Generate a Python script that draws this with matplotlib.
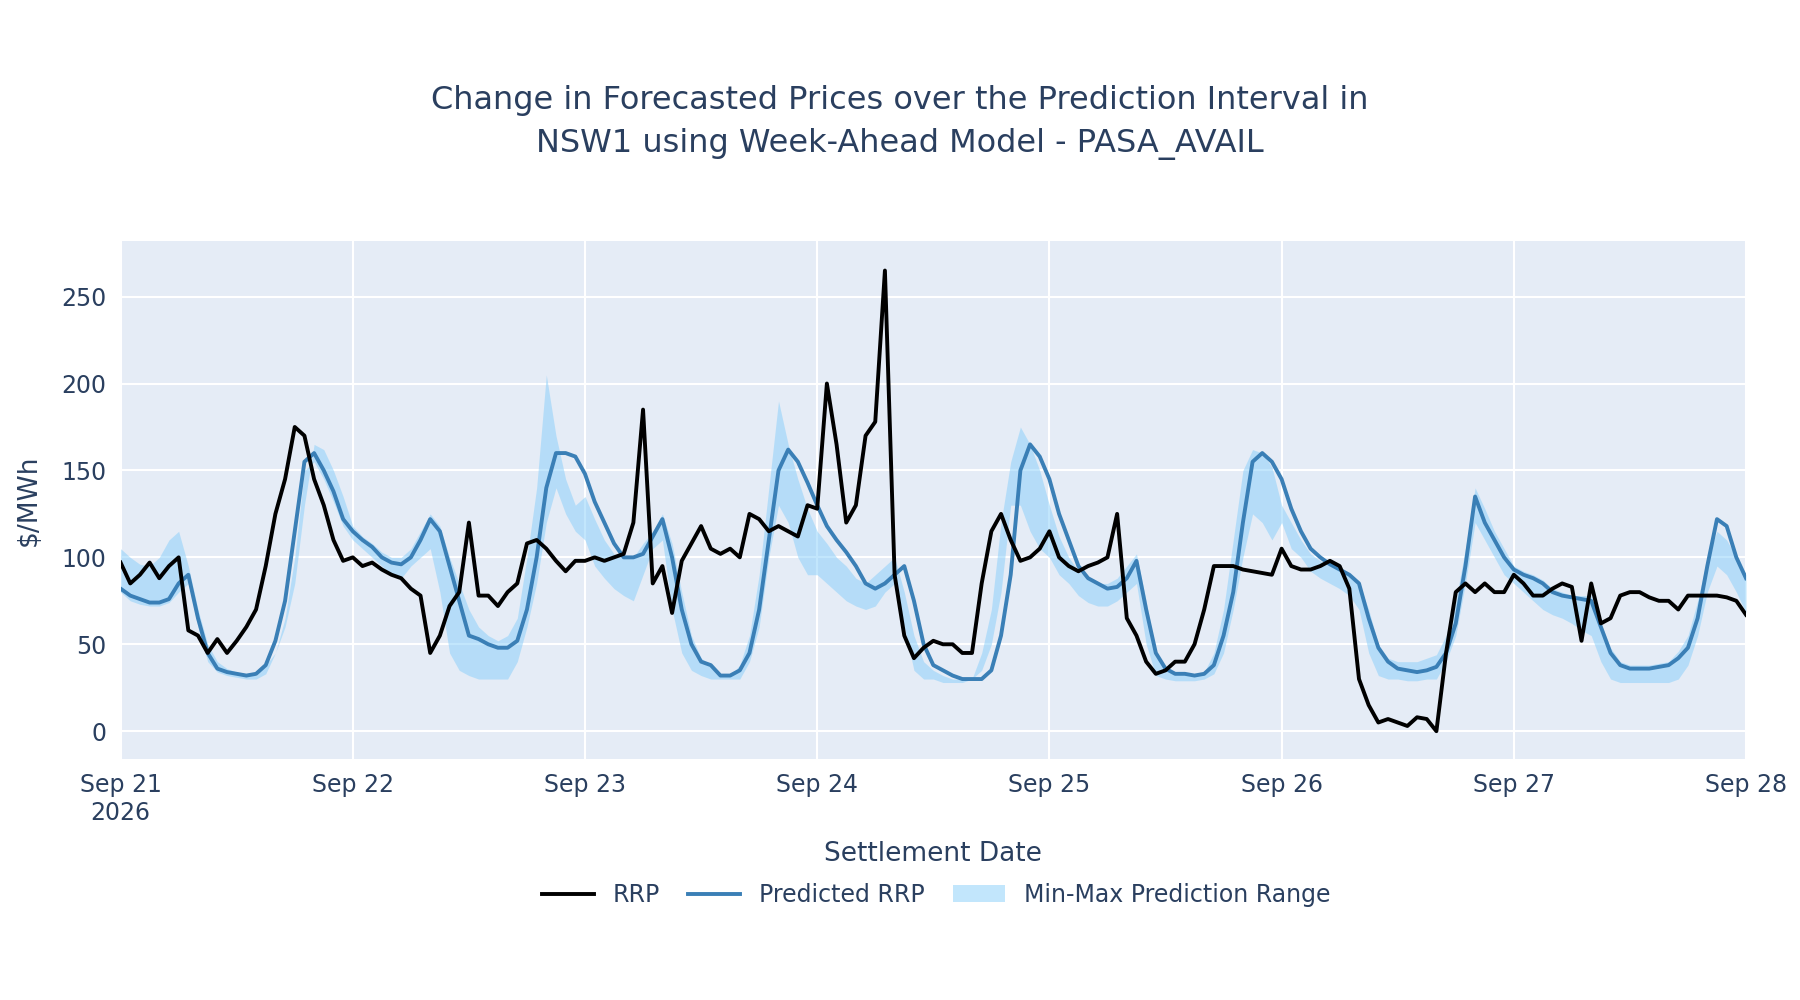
import numpy as np
import pandas as pd
import matplotlib
matplotlib.use('Agg')
import matplotlib.pyplot as plt
import matplotlib.dates as mdates

# hourly values, Sep 21 00:00 -> Sep 28 00:00
rrp = [97, 85, 90, 97, 88, 95, 100, 58, 55, 45, 53, 45, 52, 60, 70, 95, 125, 145, 175, 170, 145, 130, 110, 98,
       100, 95, 97, 93, 90, 88, 82, 78, 45, 55, 72, 80, 120, 78, 78, 72, 80, 85, 108, 110, 105, 98, 92, 98,
       98, 100, 98, 100, 102, 120, 185, 85, 95, 68, 98, 108, 118, 105, 102, 105, 100, 125, 122, 115, 118, 115, 112, 130,
       128, 200, 165, 120, 130, 170, 178, 265, 90, 55, 42, 48, 52, 50, 50, 45, 45, 85, 115, 125, 110, 98, 100, 105,
       115, 100, 95, 92, 95, 97, 100, 125, 65, 55, 40, 33, 35, 40, 40, 50, 70, 95, 95, 95, 93, 92, 91, 90,
       105, 95, 93, 93, 95, 98, 95, 82, 30, 15, 5, 7, 5, 3, 8, 7, 0, 45, 80, 85, 80, 85, 80, 80,
       90, 85, 78, 78, 82, 85, 83, 52, 85, 62, 65, 78, 80, 80, 77, 75, 75, 70, 78, 78, 78, 78, 77, 75, 67]
pred = [82, 78, 76, 74, 74, 76, 85, 90, 65, 45, 36, 34, 33, 32, 33, 38, 52, 75, 115, 155, 160, 150, 138, 122,
        115, 110, 106, 100, 97, 96, 100, 110, 122, 115, 95, 75, 55, 53, 50, 48, 48, 52, 70, 100, 140, 160, 160, 158,
        148, 132, 120, 108, 100, 100, 102, 112, 122, 100, 70, 50, 40, 38, 32, 32, 35, 45, 70, 110, 150, 162, 155, 143,
        130, 118, 110, 103, 95, 85, 82, 85, 90, 95, 75, 50, 38, 35, 32, 30, 30, 30, 35, 55, 90, 150, 165, 158,
        145, 125, 110, 95, 88, 85, 82, 83, 88, 98, 70, 45, 36, 33, 33, 32, 33, 38, 55, 80, 120, 155, 160, 155,
        145, 128, 115, 105, 100, 96, 93, 90, 85, 65, 48, 40, 36, 35, 34, 35, 37, 45, 62, 95, 135, 120, 110, 100,
        93, 90, 88, 85, 80, 78, 77, 76, 75, 60, 45, 38, 36, 36, 36, 37, 38, 42, 48, 65, 95, 122, 118, 100, 88]
pmax = [105, 100, 96, 95, 100, 110, 115, 95, 70, 50, 40, 36, 34, 33, 32, 38, 45, 60, 85, 130, 165, 162, 150, 135,
        118, 112, 108, 103, 100, 100, 105, 115, 125, 118, 100, 85, 70, 60, 55, 52, 55, 65, 100, 140, 205, 170, 145, 130,
        135, 122, 110, 102, 100, 100, 108, 115, 125, 108, 80, 55, 42, 38, 32, 32, 38, 55, 90, 140, 190, 165, 145, 128,
        115, 108, 100, 95, 88, 85, 90, 95, 100, 80, 55, 40, 35, 32, 30, 30, 30, 45, 70, 120, 155, 175, 165, 150,
        130, 112, 100, 92, 88, 85, 85, 88, 95, 102, 75, 45, 35, 33, 33, 32, 34, 45, 70, 110, 150, 162, 160, 152,
        130, 120, 110, 102, 98, 96, 93, 90, 85, 70, 50, 42, 40, 40, 40, 42, 44, 55, 75, 105, 140, 128, 115, 105,
        95, 92, 90, 87, 82, 80, 78, 78, 78, 62, 48, 40, 38, 38, 38, 39, 40, 46, 55, 75, 100, 115, 110, 100, 90]
pmin = [80, 75, 73, 72, 72, 74, 80, 85, 60, 40, 34, 32, 31, 30, 30, 33, 45, 65, 100, 150, 155, 145, 132, 118,
        110, 105, 100, 95, 90, 88, 95, 100, 105, 80, 45, 35, 32, 30, 30, 30, 30, 40, 60, 85, 120, 140, 125, 115,
        110, 95, 88, 82, 78, 75, 90, 105, 110, 70, 45, 35, 32, 30, 30, 30, 30, 40, 60, 100, 130, 120, 100, 90,
        90, 85, 80, 75, 72, 70, 72, 80, 85, 60, 35, 30, 30, 28, 28, 28, 30, 35, 50, 80, 130, 130, 115, 105,
        100, 90, 85, 78, 74, 72, 72, 75, 80, 85, 50, 32, 30, 29, 29, 29, 30, 33, 45, 70, 100, 125, 120, 110,
        120, 105, 100, 92, 88, 85, 82, 78, 70, 45, 32, 30, 30, 29, 29, 30, 30, 40, 55, 85, 120, 110, 100, 90,
        85, 80, 75, 70, 67, 65, 62, 58, 55, 40, 30, 28, 28, 28, 28, 28, 28, 30, 38, 55, 80, 95, 90, 80, 68]

t = pd.date_range('2026-09-21', periods=len(rrp), freq='h')
txt = '#2a3f5f'

fig = plt.figure(figsize=(18, 10), dpi=100)
ax = fig.add_axes([0.067, 0.241, 0.903, 0.518])
ax.set_facecolor('#E5ECF6')
ax.fill_between(t, pmin, pmax, color='#87CEFA', alpha=0.5, lw=0, label='Min-Max Prediction Range')
ax.plot(t, pred, color='#3a7fb6', lw=2.8, label='Predicted RRP')
ax.plot(t, rrp, color='black', lw=2.8, label='RRP')
ax.set_xlim(t[0], t[-1])
ax.set_ylim(-16, 282)
ax.set_yticks([0, 50, 100, 150, 200, 250])
ax.xaxis.set_major_locator(mdates.DayLocator())
ticks = pd.date_range('2026-09-21', '2026-09-28', freq='D')
ax.set_xticks(ticks)
ax.set_xticklabels(['Sep 21\n2026'] + [d.strftime('%b %d') for d in ticks[1:]])
ax.grid(color='white', lw=1.5)
ax.set_axisbelow(True)
for s in ax.spines.values():
    s.set_visible(False)
ax.tick_params(length=0, labelsize=17, colors=txt, pad=10)
ax.set_ylabel('$/MWh', fontsize=19, color=txt, labelpad=14)
ax.set_xlabel('Settlement Date', fontsize=19, color=txt, labelpad=12)

fig.suptitle('Change in Forecasted Prices over the Prediction Interval in\nNSW1 using Week-Ahead Model - PASA_AVAIL',
             y=0.915, fontsize=23, color=txt, linespacing=1.5)
h, l = ax.get_legend_handles_labels()
fig.legend(h[::-1], l[::-1], loc='center', bbox_to_anchor=(0.52, 0.105), ncol=3, frameon=False,
           fontsize=17, labelcolor=txt, handlelength=2.2, columnspacing=1.2)
fig.savefig('out.png')
